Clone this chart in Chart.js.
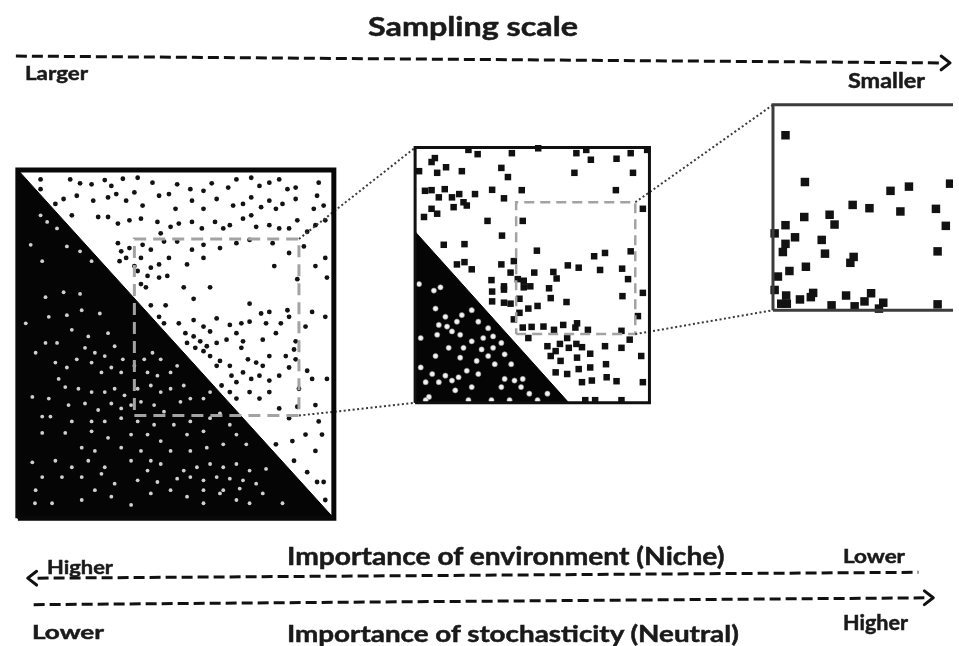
<!DOCTYPE html>
<html>
<head>
<meta charset="utf-8">
<script src="https://cdn.jsdelivr.net/npm/chart.js@4.4.1/dist/chart.umd.min.js"></script>
<style>
html, body { margin: 0; padding: 0; background: #fff; }
#stage { position: relative; width: 959px; height: 646px; overflow: hidden; }
#fig { position: absolute; left: 0; top: 0; }
.lbl { position: absolute; white-space: nowrap; font-family: Lato, "Open Sans", sans-serif; font-weight: bold; color: #1a1a1a; -webkit-text-stroke: 0.5px #1a1a1a; transform-origin: 0 0; }
</style>
</head>
<body>
<div id="stage"><canvas id="fig" width="959" height="646"></canvas></div>
<script>
// dots, in that panel's own units (x to the right, y up)
const bigBlackDots = [
	[6.9,103.6],[15.9,103.6],[18.9,102.4],[22.4,102.1],[26.4,103.4],[28.4,101.6],[31.9,103.8],[36.4,104.1],[40.9,102.6],[48.4,102.1],[52.4,100.6],[56.4,100.1],[58.9,102.4],[63.9,101.1],[66.4,103.6],[70.9,104.1],[73.4,101.6],[76.4,102.6],[79.4,103.6],[81.9,100.6],[84.4,101.1],[91.4,102.6],[6.9,100.6],
	[11.4,96.1],[13.9,97.6],[17.9,98.6],[22.9,97.1],[27.4,98.1],[29.9,99.1],[32.9,97.1],[35.4,99.6],[37.9,95.6],[42.9,98.6],[45.9,99.1],[47.9,94.6],[52.9,97.1],[56.4,94.6],[60.4,97.6],[65.4,95.6],[68.4,96.1],[70.9,98.1],[73.9,95.1],[76.4,97.1],[78.4,94.6],[80.4,96.1],[84.4,97.6],[90.9,98.6],[92.9,95.6],[89.9,94.6],
	[16.4,92.6],[24.4,92.1],[27.4,92.1],[30.4,90.1],[33.9,91.1],[37.4,91.6],[42.4,90.6],[43.4,87.1],[46.4,89.1],[48.9,90.1],[52.9,90.6],[55.9,88.6],[59.9,90.6],[62.4,88.6],[64.4,89.6],[68.4,91.6],[70.9,92.6],[72.4,89.1],[76.4,89.6],[79.4,88.6],[82.4,88.6],[84.9,91.1],[90.4,89.6],[93.4,91.1],[87.9,87.6],
	[30.4,84.1],[31.4,81.6],[33.9,82.6],[37.9,83.6],[40.4,82.1],[44.4,84.6],[48.4,84.6],[52.9,82.1],[56.4,83.6],[61.4,82.6],[66.4,84.1],[70.4,85.1],[77.4,84.1],[82.4,81.1],[86.9,83.1],[30.9,78.6],[32.9,79.6],[35.4,77.1],[37.4,79.6],[40.4,76.6],[42.9,77.6],[45.9,79.6],[51.4,77.6],[56.4,79.6],[77.9,77.1],[90.4,77.1],[93.4,79.6],[36.4,75.6],
	[39.4,74.1],[42.9,73.6],[45.4,74.1],[37.4,71.6],[38.9,70.6],[50.4,70.6],[58.4,70.6],[84.9,73.1],[93.9,73.6],[40.4,65.1],[44.9,65.1],[53.4,67.1],[70.4,65.6],[73.9,62.6],[76.4,63.1],[81.9,63.6],[89.4,63.1],[93.4,61.6],
	[42.9,61.6],[44.4,59.6],[48.9,59.6],[53.4,60.6],[56.4,58.6],[60.4,61.1],[64.4,59.1],[67.9,59.6],[70.4,60.1],[75.4,59.6],[79.9,59.6],[82.4,61.6],[84.4,54.1],[87.4,58.6],[50.9,56.6],[53.4,55.6],[55.4,54.1],[58.4,57.1],[60.4,53.6],[63.4,54.6],[66.4,56.6],[51.4,53.6],[53.9,52.1],[57.4,52.6],[68.4,54.1],[74.4,54.6],[78.4,56.6],
	[56.4,51.1],[58.4,49.6],[61.4,48.1],[60.4,46.6],[64.4,46.6],[67.9,52.1],[69.9,48.6],[72.4,47.6],[74.4,46.6],[76.4,49.6],[81.4,49.6],[83.9,51.6],[87.9,45.1],[64.9,43.6],[66.4,41.6],[68.4,44.6],[70.9,42.6],[73.4,43.6],[76.4,42.1],[79.4,43.6],[82.4,46.1],[84.4,48.6],[85.4,39.6],[89.4,42.6],[93.9,42.6],[61.9,40.6],
	[64.4,38.6],[66.4,36.6],[70.4,38.6],[73.4,36.6],[76.4,38.6],[79.4,33.6],[84.9,34.1],[90.4,34.6],[91.4,29.6],[92.4,25.6],[82.4,30.6],[78.4,22.6],[83.4,23.6],[87.4,25.6],[90.4,20.6],[83.9,17.6],[87.9,14.1],[90.9,11.1],[92.9,11.1],[93.4,5.6]
];
const bigWhiteDots = [
	[6.9,92.6],[8.9,90.6],[11.9,88.6],[3.9,83.6],[7.4,78.6],[14.9,83.1],[18.9,81.6],[22.4,78.6],[8.4,67.6],[13.9,69.1],[18.9,68.6],[2.4,59.6],[9.4,61.6],[14.9,62.1],[19.4,63.6],[24.9,62.6],
	[27.4,56.6],[21.4,55.6],[16.4,57.6],[11.9,53.6],[8.4,53.6],[20.4,52.1],[23.4,50.6],[26.4,49.6],[29.4,52.6],[31.9,48.6],[5.4,50.6],[11.4,47.6],[14.9,46.1],[17.9,48.6],[22.4,47.6],[25.4,44.6],[28.4,46.1],[31.4,44.6],[35.4,46.6],[38.4,48.6],[40.9,50.6],[43.4,48.6],[39.4,44.6],[42.4,43.6],[46.4,44.6],[48.4,46.6],
	[12.4,42.6],[14.4,40.1],[18.4,39.6],[22.4,38.6],[26.4,38.6],[29.4,39.6],[32.4,37.6],[36.4,39.6],[40.4,40.6],[43.4,38.6],[46.4,39.6],[50.4,40.6],[4.4,37.1],[9.4,36.6],[15.4,34.6],[20.4,35.1],[24.4,33.1],[28.4,35.1],[31.4,33.6],[34.4,34.6],[37.4,35.6],[41.4,34.6],[44.4,32.6],[49.4,35.6],[52.4,36.6],[56.4,36.6],[58.4,38.6],
	[7.4,31.1],[9.9,31.1],[16.4,29.6],[22.4,29.6],[26.4,29.6],[31.4,30.6],[36.4,29.6],[41.4,28.6],[47.4,28.6],[52.4,29.6],[58.4,30.6],[61.4,32.1],[14.4,26.1],[7.4,26.1],[22.4,26.6],[27.4,24.6],[34.4,25.6],[39.4,25.6],[43.4,23.6],[51.4,25.6],[56.4,26.6],[64.4,28.6],[66.4,25.6],
	[19.4,21.6],[23.4,20.6],[31.4,21.6],[37.4,20.6],[40.4,17.6],[46.4,20.6],[52.4,20.6],[57.4,21.6],[62.4,22.6],[69.4,22.6],[4.4,17.1],[11.4,17.6],[16.4,15.6],[21.4,17.6],[26.4,15.6],[34.4,17.6],[39.4,14.6],[43.4,16.6],[50.4,14.6],[54.4,15.6],[58.4,16.6],[62.4,15.6],[66.4,16.6],[70.4,14.6],[75.4,15.1],
	[7.4,12.6],[13.4,12.6],[19.4,12.6],[25.4,13.6],[29.4,10.6],[36.4,11.6],[42.4,11.1],[48.4,12.1],[52.4,12.6],[56.4,11.6],[60.4,12.6],[64.4,12.1],[68.4,11.6],[72.4,10.6],
	[5.4,8.6],[10.4,4.6],[19.4,5.6],[23.4,8.6],[28.4,6.6],[34.4,4.1],[40.4,7.6],[46.4,8.6],[51.4,6.6],[56.4,4.6],[61.4,7.6],[66.4,5.6],[70.4,4.6],[74.4,7.6],[80.4,4.6],[5.2,4.6],[56.4,8.6],[62.4,8.6],[67.4,9.1]
];
const midBlackDots = [
	[6,74.8],[5,73.6],[16.2,77.3],[19,76],[29.4,76.3],[37.4,77.8],[49,76.3],[52,77.3],[53.4,74.3],[61.2,74.6],[65.5,76.3],[70.5,77.3],
	[1.2,70.8],[6.7,70.3],[9.4,72],[14.2,70.8],[26.2,71.8],[28.2,69],[48.4,70.3],[66.2,70.3],
	[3,64.8],[5,65],[7.2,62.8],[9,65.3],[11.2,62.8],[13.4,63.8],[14.7,61.3],[15.7,60.3],[18.2,63.8],[23.4,65.1],[27,62.5],[32.4,65],[61,65],
	[2.7,56.8],[5,59.3],[6.7,57.8],[11.7,59.8],[22,55.6],[32.7,55.6],[69.2,59.3],
	[26.4,51.1],[8.7,48.3],[15,48.5],[37,46.5],[54.4,44.8],[57.7,45.8],[65.5,46.3],
	[12.7,42.3],[15,43],[17.2,40.8],[26.2,42.3],[30,43.3],[29,39.8],[36.2,39.8],[42,40],[43,38],[46.4,42],[49.7,41.3],[56.2,40.6],[62.9,41],[64.7,37.8],
	[23.2,37.5],[27,35.6],[27,34.6],[31.2,37.8],[33,37.3],[33,35.3],[35,35.6],[23.4,34],[27,30.6],[29,30.3],[23.4,31],[31.7,31.8],[37.2,29.6],[40.7,35],[41.2,32],[46,30.8],[63,32.6],[69.2,33.6],
	[30,25.5],[31.7,27.5],[34.4,28.8],[32.7,23],[35.4,23.2],[39,23.3],[45,23.8],[48.7,23],[49.2,24.3],[52.5,22.3],[42.2,22.3],[62.7,22],[67.7,26.5],[65.2,19.3],[34.4,19.8],
	[40.2,17.3],[42.7,15.8],[44,18],[46.2,19.8],[49,18],[46.7,16.8],[50.7,17],[53.2,15],[57.7,17.3],[62.7,16.8],[41.2,14.3],[44.2,12.8],[49.2,13.8],[53.2,10.8],[58,11.8],[68.7,14.3],
	[42.7,9.3],[46.2,8.8],[49.7,10.3],[50.7,6.3],[53.7,6.8],[58.2,7.8],[61.2,6.6],[69.2,6.3],[51.7,0.8],[54.7,0.8],[62.7,0.8]
];
const midWhiteDots = [
	[1.2,36.3],[5.7,34.3],[7.7,35.3],[6.2,28.8],[9.2,26.3],[7.2,23.8],[9.7,23.3],[11.2,21.8],[12.7,24.8],[14.2,26.8],[17.2,28.3],[19.2,24.8],[22.2,22.8],[20.7,19.8],[23.7,20.3],[17.2,18.8],[13.7,20.8],[6.7,20.8],[1.7,19.8],
	[10.2,16.8],[14.7,16.8],[20.2,16.3],[23.7,16.8],[26.2,18.3],[27.2,14.8],[29.2,11.8],[24.2,11.8],[22.2,14.3],[18.7,12.8],[13.7,13.8],[6.2,14.3],[1.7,10.8],[5.2,8.8],[3.2,6.3],[7.2,6.3],[11.2,6.8],[9.2,8.3],
	[15.7,9.8],[13.2,7.8],[19.2,8.8],[27.2,7.3],[30.2,6.8],[32.7,7.3],[32.2,4.8],[26.2,4.8],[17.2,4.8],[12.2,3.8],[4.2,1.8],[16.2,0.8],[23.2,0.8],[28.7,0.8],[34.7,2.8],[40.2,2.8],[37.2,0.8],[3.2,0.8]
];
const smallBlackDots = [
	[3.8,53.5],[9.7,39.2],[35.7,36.5],[41.3,37.8],[53.8,38.7],[24.2,32.2],[29.3,31.2],[38.7,30.2],[49.5,31],[9.5,28.5],[17.2,29.2],[18.7,26.2],[3.8,26],[52.5,25.8],
	[0.5,23.5],[6.7,22.3],[14.8,21.5],[3.8,20.3],[3,17.8],[15.8,17.3],[50,18],[24.5,16.3],[23.5,14.5],[10,13.3],[5,12],[1.5,10.3],
	[0.5,6.2],[12.2,5.3],[11.5,4],[4,4.5],[8.2,3.3],[22.2,4.5],[29.8,5.2],[27.8,2.7],[33.5,2.3],[17.8,1.5],[24.8,1.2],[2.5,2],[4.2,2],[50,1.8],[32.2,0.5]
];

// sampled window inside the big and middle panels: [x0, y0, x1, y1]
const bigWindow = [35.4, 31.4, 85.4, 85.4];
const midWindow = [30.7, 21, 66.9, 61.3];
// black part: where the diagonal meets the left edge (y) and the bottom edge (x)
const bigSplit = [106.5, 96];
const midSplit = [52.3, 46.7];

// layout of the three panels on the page
const panels = {
	big:   {left: 12,    top: 167,   w: 320,   h: 355,   xMax: 96,   yMax: 106.5},
	mid:   {left: 414.3, top: 144.3, w: 237.3, h: 260,   xMax: 71.2, yMax: 78},
	small: {left: 776.7, top: 100.7, w: 206.7, h: 209.3, xMax: 62,   yMax: 62.8}
};

function place(p, x, y) {
	return {x: p.left + x / p.xMax * p.w, y: p.top + (1 - y / p.yMax) * p.h};
}
function box(x0, y0, x1, y1) {
	return [[x0, y0], [x1, y0], [x1, y1], [x0, y1], [x0, y0]];
}
function dots(p, list, style) {
	return Object.assign({data: list.map(d => place(p, d[0], d[1])), showLine: false, order: 4, pointBorderWidth: 0}, style);
}
function path(pts, style) {
	return Object.assign({data: pts, showLine: true, pointRadius: 0, fill: false, tension: 0, order: 2,
		borderCapStyle: 'butt', borderJoinStyle: 'miter'}, style);
}
function panelPath(p, list, style) {
	return path(list.map(d => place(p, d[0], d[1])), style);
}

const B = panels.big, M = panels.mid, S = panels.small;
const datasets = [];

// black triangles
datasets.push(panelPath(B, [[0, bigSplit[0]], [0, 0], [bigSplit[1], 0], [0, bigSplit[0]]],
	{fill: 'shape', backgroundColor: '#050505', borderColor: '#050505', borderWidth: 1, order: 9}));
datasets.push(panelPath(M, [[0, midSplit[0]], [0, 0], [midSplit[1], 0], [0, midSplit[0]]],
	{fill: 'shape', backgroundColor: '#050505', borderColor: '#050505', borderWidth: 1, order: 9}));

// dots
datasets.push(dots(B, bigBlackDots, {pointStyle: 'circle', pointRadius: 2.4, pointBackgroundColor: '#121212'}));
datasets.push(dots(B, bigWhiteDots, {pointStyle: 'circle', pointRadius: 1.9, pointBackgroundColor: '#d0d0d0'}));
datasets.push(dots(M, midBlackDots, {pointStyle: 'rect', pointRadius: 4.6, pointBackgroundColor: '#101010'}));
datasets.push(dots(M, midWhiteDots, {pointStyle: 'circle', pointRadius: 2.6, pointBackgroundColor: '#f2f2f2',
	pointBorderColor: '#8c8c8c', pointBorderWidth: 0.6}));
datasets.push(dots(S, smallBlackDots, {pointStyle: 'rect', pointRadius: 6, pointBackgroundColor: '#121212'}));

// sampled windows (grey dashes)
datasets.push(panelPath(B, box(...bigWindow), {borderColor: '#a3a3a3', borderWidth: 3, borderDash: [12, 7], order: 3}));
datasets.push(panelPath(M, box(...midWindow), {borderColor: '#a3a3a3', borderWidth: 2.5, borderDash: [10, 6], order: 3}));

// dotted zoom connectors
const dotted = {borderColor: '#3a3a3a', borderWidth: 2, borderDash: [2, 2.5], order: 2};
datasets.push(path([place(B, bigWindow[2], bigWindow[3]), place(M, 0, M.yMax)], dotted));
datasets.push(path([place(B, bigWindow[2], bigWindow[1]), place(M, 0, 0)], dotted));
datasets.push(path([place(M, midWindow[2], midWindow[3]), place(S, 0, S.yMax)], dotted));
datasets.push(path([place(M, midWindow[2], midWindow[1]), place(S, 0, 0)], dotted));

// panel frames
datasets.push(panelPath(B, box(0, 0, B.xMax, B.yMax), {borderColor: '#080808', borderWidth: 5, order: 1}));
datasets.push(panelPath(M, box(0, 0, M.xMax, M.yMax), {borderColor: '#101010', borderWidth: 3, order: 1}));
datasets.push(panelPath(S, box(0, 0, S.xMax, S.yMax), {borderColor: '#3c3c3c', borderWidth: 3, order: 1}));

// dashed arrows: [x0, y0, x1, y1, head side]
const arrows = [
	[10, 51, 947, 58, 'end'],
	[32, 583, 924, 577, 'start'],
	[28, 610, 930, 603, 'end']
];
const dashed = {borderColor: '#111', borderWidth: 3, borderDash: [11, 5], order: 1};
const solid = {borderColor: '#111', borderWidth: 3, order: 1, borderJoinStyle: 'round', borderCapStyle: 'round'};
arrows.forEach(a => {
	datasets.push(path([{x: a[0], y: a[1]}, {x: a[2], y: a[3]}], dashed));
	if (a[4] === 'end') {
		const tx = a[2] + 9, ty = a[3];
		datasets.push(path([{x: tx - 9, y: ty - 7}, {x: tx, y: ty}, {x: tx - 9, y: ty + 7}], solid));
	} else {
		const tx = a[0] - 10, ty = a[1];
		datasets.push(path([{x: tx + 9, y: ty - 7}, {x: tx, y: ty}, {x: tx + 9, y: ty + 7}], solid));
	}
});

new Chart(document.getElementById('fig'), {
	type: 'line',
	data: {datasets: datasets},
	options: {
		responsive: false,
		animation: false,
		devicePixelRatio: 1,
		events: [],
		layout: {padding: 0},
		plugins: {legend: {display: false}, tooltip: {enabled: false}},
		scales: {
			x: {type: 'linear', min: 0, max: 959, display: false},
			y: {type: 'linear', min: 0, max: 646, reverse: true, display: false}
		}
	}
});

// labels: left edge, cap top, baseline, width
const labels = [
	{text: 'Sampling scale', left: 368, capTop: 17, baseline: 36, width: 210},
	{text: 'Larger', left: 25, capTop: 65, baseline: 79.5, width: 63},
	{text: 'Smaller', left: 848, capTop: 72, baseline: 87.5, width: 77},
	{text: 'Higher', left: 47, capTop: 559.5, baseline: 574, width: 66},
	{text: 'Importance of environment (Niche)', left: 287, capTop: 547, baseline: 565, width: 438},
	{text: 'Lower', left: 843, capTop: 549, baseline: 563, width: 62},
	{text: 'Lower', left: 32, capTop: 624.5, baseline: 639, width: 72},
	{text: 'Importance of stochasticity (Neutral)', left: 287, capTop: 625, baseline: 642, width: 453},
	{text: 'Higher', left: 843, capTop: 615, baseline: 630, width: 65}
];
const mctx = document.createElement('canvas').getContext('2d');
const stage = document.getElementById('stage');
labels.forEach(l => {
	mctx.font = 'bold 100px Lato';
	const capRatio = mctx.measureText('H').actualBoundingBoxAscent / 100;
	const size = (l.baseline - l.capTop) / capRatio;
	mctx.font = 'bold ' + size + 'px Lato';
	const m = mctx.measureText(l.text);
	const asc = m.fontBoundingBoxAscent, desc = m.fontBoundingBoxDescent;
	const el = document.createElement('div');
	el.className = 'lbl';
	el.textContent = l.text;
	el.style.fontSize = size + 'px';
	el.style.lineHeight = (asc + desc) + 'px';
	el.style.left = l.left + 'px';
	el.style.top = (l.baseline - asc) + 'px';
	el.style.transform = 'scaleX(' + (l.width / m.width) + ')';
	stage.appendChild(el);
});
</script>
</body>
</html>
